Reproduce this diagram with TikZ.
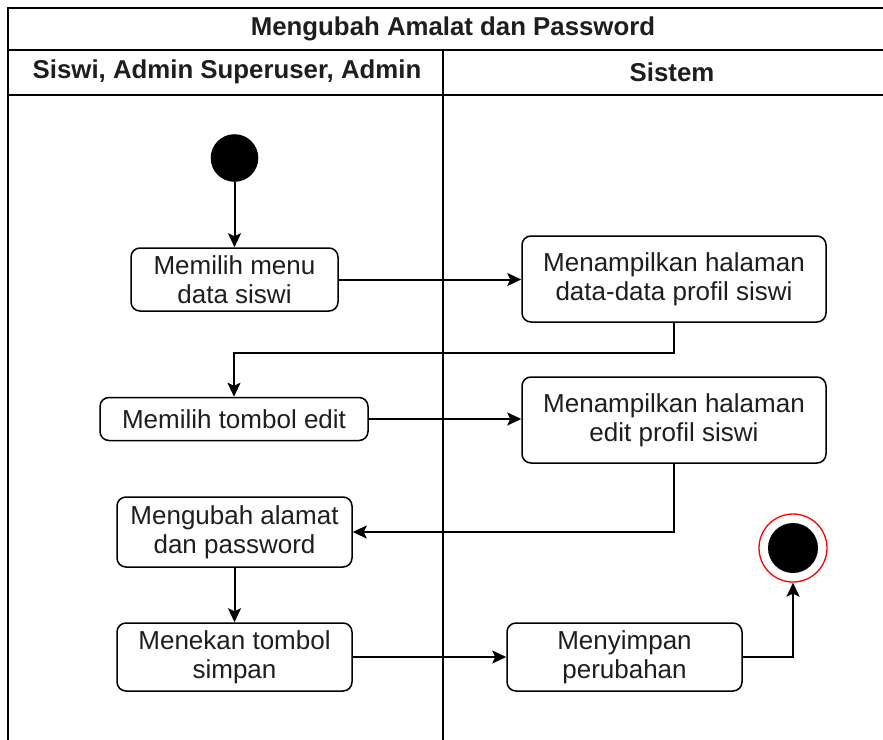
\documentclass[tikz,border=0pt]{standalone}
\usepackage{fontspec}
\setmainfont{Liberation Sans}
\usetikzlibrary{arrows.meta}
\definecolor{txt}{RGB}{30,30,30}
\definecolor{endred}{RGB}{255,0,0}
\begin{document}
\begin{tikzpicture}[x=1pt,y=-1pt,
  act/.style={draw, line width=1.5pt, rounded corners=9pt, align=center,
    font=\fontsize{26}{29}\selectfont, text=txt, inner sep=0pt},
  lane/.style={line width=1.5pt},
  hdr/.style={font=\fontsize{25.8}{28}\selectfont\bfseries, text=txt, inner sep=0pt},
  flow/.style={line width=2pt, -{Stealth[length=14pt,width=13pt,inset=3pt]}}
]
\useasboundingbox (0,0) rectangle (883,739);
\fill[white] (0,0) rectangle (883,739);
\begin{scope}
\clip (0,0) rectangle (883,739);
% pool
\draw[lane] (8,760) -- (8,8) -- (899,8) -- (899,760);
\draw[lane] (8,50) -- (899,50);
\draw[lane] (8,95) -- (899,95);
\draw[lane] (443,50) -- (443,760);
\end{scope}
\node[hdr] (title) at (453,29) {Mengubah Amalat dan Password};
\node[hdr] (laneA) at (227,72) {Siswi, Admin Superuser, Admin};
\node[hdr] (laneB) at (672,72) {Sistem};

% start
\node[circle, fill=black, minimum size=47.6pt, inner sep=0pt] (start) at (234.5,158) {};
% activities
\node[act, minimum width=207pt, minimum height=63pt] (a1) at (234.5,279.5) {Memilih menu\\data siswi};
\node[act, minimum width=304pt, minimum height=86pt] (s1) at (674,279) {Menampilkan halaman\\data-data profil siswi};
\node[act, minimum width=268pt, minimum height=43pt] (a2) at (234,419) {Memilih tombol edit};
\node[act, minimum width=304pt, minimum height=86pt] (s2) at (674,420) {Menampilkan halaman\\edit profil siswi};
\node[act, minimum width=235pt, minimum height=70pt] (a3) at (234.5,532) {Mengubah alamat\\dan password};
\node[act, minimum width=235pt, minimum height=68pt] (a4) at (234.5,657) {Menekan tombol\\simpan};
\node[act, minimum width=235pt, minimum height=68pt] (s3) at (624.5,657) {Menyimpan\\perubahan};
% end
\node[circle, draw=endred, line width=1.3pt, fill=white, minimum size=68pt, inner sep=0pt] (end) at (793,548) {};
\node[circle, fill=black, minimum size=50pt, inner sep=0pt] (endin) at (end.center) {};

% connectors
\draw[flow] (start) -- (a1);
\draw[flow] (a1) -- (s1.west |- a1.east);
\coordinate (c1) at (674,353);
\coordinate (c2) at (234,353);
\draw[flow] (s1.south) -- (c1) -- (c2) -- (a2.north);
\draw[flow] (a2) -- (s2.west |- a2.east);
\coordinate (c3) at (674,532);
\draw[flow] (s2.south) -- (c3) -- (a3.east);
\draw[flow] (a3) -- (a4);
\draw[flow] (a4) -- (s3);
\coordinate (c4) at (793,657);
\draw[flow] (s3.east) -- (c4) -- (end.south);
\end{tikzpicture}
\end{document}
